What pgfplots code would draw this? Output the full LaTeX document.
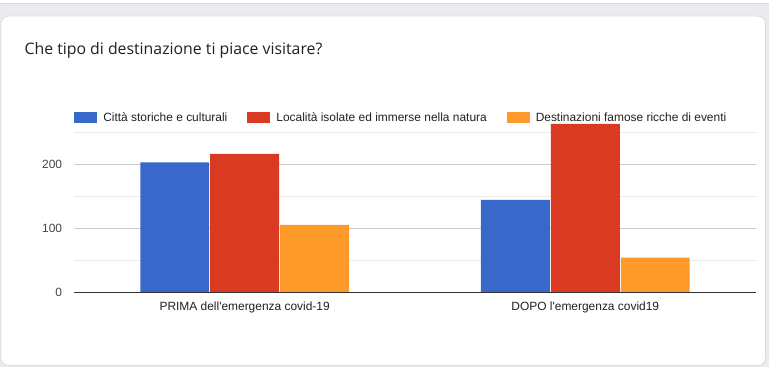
\documentclass[border=0pt]{standalone}
\usepackage{fontspec}
\setmainfont{Liberation Sans}[Ligatures=TeXOff]
\newfontfamily\titlefont{Open Sans}
\usepackage{pgfplots}
\pgfplotsset{compat=1.18}
\definecolor{cblue}{HTML}{3869CA}
\definecolor{cred}{HTML}{DB3A22}
\definecolor{corange}{HTML}{FD9A2A}
\definecolor{bggray}{HTML}{E9EBEE}
\definecolor{cardline}{HTML}{DADCE0}
\begin{document}
\begin{tikzpicture}[x=1bp,y=1bp]
% page background and card
\fill[white] (0,0) rectangle (769,367);
\fill[bggray] (0,0) rectangle (769,364);
\draw[cardline,line width=0.8bp] (0,364) -- (769,364);
\fill[white] (0,364.4) rectangle (769,367);
\filldraw[fill=white,draw=cardline,line width=0.8bp,rounded corners=8bp] (0.4,1) rectangle (766,351);
\node[anchor=base west,inner sep=0pt,text=black!87] at (24,312) {\titlefont\fontsize{15.9}{19}\selectfont Che tipo di destinazione ti piace visitare?};
\begin{axis}[
  at={(74bp,74bp)}, anchor=south west,
  scale only axis, width=682bp, height=169.6bp,
  xmin=-0.5, xmax=1.5, ymin=0, ymax=265,
  ybar=1bp, bar width=69bp,
  xtick={0,1}, xticklabels={PRIMA dell'emergenza covid-19, DOPO l'emergenza covid19},
  ytick={0,100,200}, minor ytick={50,150,250},
  ymajorgrids, yminorgrids,
  major grid style={draw=black!20, line width=0.8bp},
  minor grid style={draw=black!8, line width=0.8bp},
  major tick length=0pt, minor tick length=0pt,
  axis line style={draw=none},
  /pgf/number format/assume math mode=true,
  tick label style={font=\fontsize{12}{14}\selectfont},
  yticklabel style={anchor=east, inner sep=0pt, xshift=-12bp, text=black!73},
  xticklabel style={anchor=base, inner sep=0pt, yshift=-18bp, text=black!87},
  legend style={at={(0,1.032)}, anchor=west, draw=none, fill=none,
    inner sep=0pt, outer sep=0pt,
    font=\fontsize{12}{14}\selectfont, text=black!87,
    legend columns=3, cells={anchor=west},
    nodes={inner sep=0pt},
    /tikz/every odd column/.append style={column sep=6bp},
    /tikz/every even column/.append style={column sep=20bp}},
  legend image code/.code={\fill[#1] (0bp,-5.5bp) rectangle (23bp,5.5bp);},
  clip=false,
]
\addplot[fill=cblue, draw=none] coordinates {(0,204) (1,145)};
\addplot[fill=cred, draw=none] coordinates {(0,217) (1,264)};
\addplot[fill=corange, draw=none] coordinates {(0,106) (1,55)};
\legend{Città storiche e culturali, Località isolate ed immerse nella natura, Destinazioni famose ricche di eventi}
\draw[black!80, line width=0.9bp] (axis cs:-0.5,0) -- (axis cs:1.5,0);
\end{axis}
\end{tikzpicture}
\end{document}
